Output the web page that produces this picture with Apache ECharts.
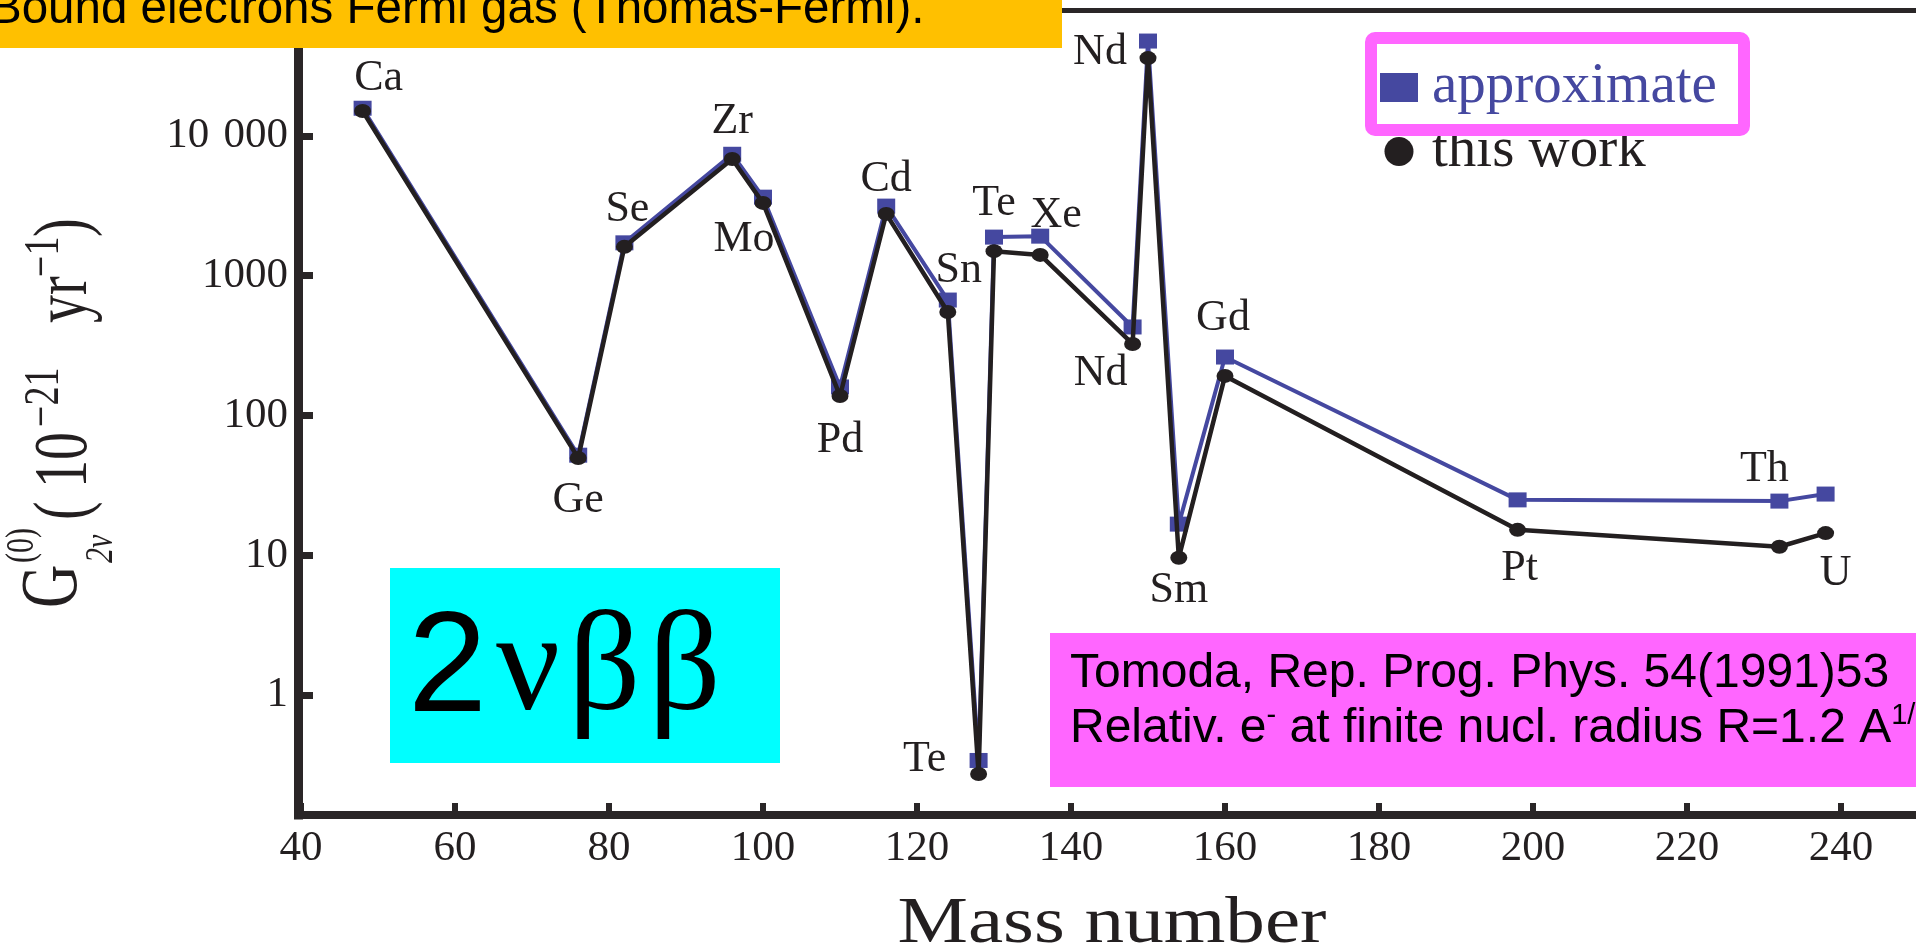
<!DOCTYPE html>
<html>
<head>
<meta charset="utf-8">
<title>2vbb phase space factors</title>
<script src="https://cdn.jsdelivr.net/npm/echarts@6/dist/echarts.min.js"></script>
<style>
  html, body { margin: 0; padding: 0; background: #fff; }
  #main { width: 1916px; height: 950px; }
</style>
</head>
<body>
<div id="main"></div>
<script>
// mass number and element of each 2vbb candidate
const massNumber = [48, 76, 82, 96, 100, 110, 116, 124, 128, 130, 136, 148, 150, 154, 160, 198, 232, 238];
const element = ['Ca', 'Ge', 'Se', 'Zr', 'Mo', 'Pd', 'Cd', 'Sn', 'Te', 'Te', 'Xe', 'Nd', 'Nd', 'Sm', 'Gd', 'Pt', 'Th', 'U'];

// G_2v^(0) in 10^-21 yr^-1
const approximate = [15800, 52, 1720, 7400, 3650, 160, 3150, 670, 0.34, 1890, 1920, 430, 47800, 16.7, 262, 24.9, 24.4, 27.4];
const thisWork = [15100, 49.7, 1610, 6850, 3320, 138, 2770, 550, 0.272, 1500, 1410, 325, 36100, 9.6, 192, 15.2, 11.5, 14.4];

// tick labels of the log axis
const yTickText = {1: '1', 10: '10', 100: '100', 1000: '1000', 10000: '10 \u200a000'};

// element name placement: series it hangs on ('a' approximate / 't' this work), offset px
const namePlace = [
    ['a', 16, -30], ['t', 0, 43], ['a', 3, -33], ['a', 0, -33], ['t', -19, 37],
    ['t', 0, 44], ['a', 0, -27], ['a', 11, -30], ['a', -54, -1], ['a', 0, -34],
    ['a', 16, -21], ['t', -32, 29], ['a', -48, 11], ['t', 0, 33], ['a', -2, -39],
    ['t', 2, 39], ['a', -15, -32], ['t', 10, 40]
];

const BLUE = '#4548a0';
const INK = '#231f20';
const AXIS = '#2a2627';
const SERIF = 'Liberation Serif';
const SANS = 'Liberation Sans';

function buildData(values, key) {
    return massNumber.map((m, i) => {
        const item = {value: [m, values[i]]};
        const p = namePlace[i];
        if (p[0] === key) {
            item.label = {show: true, offset: [p[1], p[2]]};
        }
        return item;
    });
}

const nameLabel = {
    show: false,
    position: 'inside',
    formatter: params => element[params.dataIndex],
    fontFamily: SERIF,
    fontSize: 44,
    color: INK
};

// y axis title, stretched across the glyphs like the pasted figure
// lx: start along the text (upwards), base: baseline x on screen
const S = 1.35;
function yPiece(text, lx, base, size, italic) {
    return {
        type: 'text',
        x: lx,
        y: base / S - 0.3375 * size,
        style: {
            text: text,
            font: (italic ? 'italic ' : '') + size + 'px "' + SERIF + '"',
            fill: INK,
            align: 'left',
            verticalAlign: 'middle'
        }
    };
}

const chart = echarts.init(document.getElementById('main'), null, {renderer: 'canvas'});

const option = {
    animation: false,
    backgroundColor: '#fff',
    grid: {
        left: 301,
        top: 10,
        width: 1617,
        height: 805,
        containLabel: false,
        outerBoundsMode: 'none'
    },
    xAxis: [
        {
            type: 'value',
            min: 40,
            max: 250,
            interval: 20,
            axisLine: {show: true, lineStyle: {color: AXIS, width: 8}},
            axisTick: {show: true, inside: true, length: 12, lineStyle: {color: AXIS, width: 6}},
            axisLabel: {
                show: true,
                margin: 12,
                showMaxLabel: false,
                fontFamily: SERIF,
                fontSize: 43,
                color: INK
            },
            splitLine: {show: false}
        },
        {
            type: 'value',
            position: 'top',
            min: 40,
            max: 250,
            axisLine: {show: true, lineStyle: {color: AXIS, width: 5}},
            axisTick: {show: false},
            axisLabel: {show: false},
            splitLine: {show: false}
        }
    ],
    yAxis: {
        type: 'log',
        logBase: 10,
        min: 0.13843,
        max: 79726,
        offset: 3,
        axisLine: {show: true, lineStyle: {color: AXIS, width: 9, cap: 'square'}},
        axisTick: {show: true, inside: true, length: 15, lineStyle: {color: AXIS, width: 7}},
        minorTick: {show: false},
        axisLabel: {
            show: true,
            margin: 10,
            showMinLabel: false,
            showMaxLabel: false,
            fontFamily: SERIF,
            fontSize: 43,
            color: INK,
            formatter: v => yTickText[Math.round(v)] || ''
        },
        splitLine: {show: false}
    },
    legend: {
        orient: 'vertical',
        left: 1375,
        top: 54,
        itemWidth: 38,
        itemHeight: 29,
        itemGap: 7,
        selectedMode: false,
        textStyle: {fontFamily: SERIF, fontSize: 57, padding: [0, 0, 0, 9]},
        data: [
            {name: 'approximate', icon: 'rect', itemStyle: {color: BLUE}, textStyle: {color: BLUE}},
            {name: 'this work', icon: 'circle', itemStyle: {color: INK}, textStyle: {color: INK}}
        ]
    },
    series: [
        {
            name: 'approximate',
            type: 'line',
            symbol: 'rect',
            symbolSize: [18, 15],
            showAllSymbol: true,
            lineStyle: {color: BLUE, width: 4},
            itemStyle: {color: BLUE},
            label: nameLabel,
            emphasis: {disabled: true},
            z: 2,
            data: buildData(approximate, 'a')
        },
        {
            name: 'this work',
            type: 'line',
            symbol: 'circle',
            symbolSize: [17, 14],
            showAllSymbol: true,
            lineStyle: {color: INK, width: 4.5},
            itemStyle: {color: INK},
            label: nameLabel,
            emphasis: {disabled: true},
            z: 3,
            data: buildData(thisWork, 't')
        }
    ],
    graphic: [
        // y axis title
        {
            type: 'group',
            x: 0,
            y: 610,
            rotation: Math.PI / 2,
            scaleY: S,
            z: 100,
            children: [
                yPiece('G', 2, 82, 60),
                yPiece('(0)', 47, 36, 30),
                yPiece('2\u03bd', 47, 115, 30, true),
                yPiece('(', 90, 92, 56),
                yPiece('10', 122, 92, 56),
                yPiece('\u221221', 183, 62, 38),
                yPiece('yr', 287, 92, 56),
                yPiece('\u22121', 333, 62, 38),
                yPiece(')', 373, 92, 56)
            ]
        },
        // x axis title
        {
            type: 'text',
            x: 1112,
            y: 925,
            scaleX: 1.2,
            z: 100,
            style: {
                text: 'Mass number',
                font: '66px "' + SERIF + '"',
                fill: INK,
                align: 'center',
                verticalAlign: 'middle'
            }
        },
        // frame round the legend entry
        {
            type: 'rect',
            z: 100,
            shape: {x: 1371, y: 38, width: 373, height: 92, r: 4},
            style: {fill: 'none', stroke: '#ff66ff', lineWidth: 12}
        },
        // yellow banner at the top
        {
            type: 'rect',
            z: 100,
            shape: {x: 0, y: 0, width: 1062, height: 48},
            style: {fill: '#ffc000'}
        },
        {
            type: 'text',
            x: -10,
            y: 9.5,
            z: 101,
            style: {
                text: 'Bound electrons Fermi gas (Thomas-Fermi).',
                font: '47.5px "' + SANS + '"',
                fill: '#000',
                align: 'left',
                verticalAlign: 'middle'
            }
        },
        // cyan 2vbb box
        {
            type: 'rect',
            z: 100,
            shape: {x: 390, y: 568, width: 390, height: 195},
            style: {fill: '#00ffff'}
        },
        {
            type: 'text',
            x: 408,
            y: 672,
            z: 101,
            style: {
                text: '{a|2}{b|\u03bd}{c|\u03b2}{c|\u03b2}',
                align: 'left',
                verticalAlign: 'middle',
                rich: {
                    a: {font: '142px "' + SANS + '"', fill: '#000'},
                    b: {font: '142px "' + SERIF + '"', fill: '#000', padding: [0, 0, 0, 9]},
                    c: {font: '142px "' + SERIF + '"', fill: '#000', padding: [0, 0, 0, 8]}
                }
            }
        },
        // magenta reference box
        {
            type: 'rect',
            z: 100,
            shape: {x: 1050, y: 633, width: 880, height: 154},
            style: {fill: '#ff66ff'}
        },
        {
            type: 'text',
            x: 1070,
            y: 646,
            z: 101,
            style: {
                text: '{m|Tomoda, Rep. Prog. Phys. 54(1991)53}\n' +
                    '{m|Relativ. e}{s|-}{m| at finite nucl. radius R=1.2 A}{s|1/3}',
                align: 'left',
                verticalAlign: 'top',
                rich: {
                    m: {font: '48px "' + SANS + '"', fill: '#000', lineHeight: 55},
                    s: {font: '29px "' + SANS + '"', fill: '#000', lineHeight: 30, verticalAlign: 'top'}
                }
            }
        }
    ]
};

chart.setOption(option);
</script>
</body>
</html>
